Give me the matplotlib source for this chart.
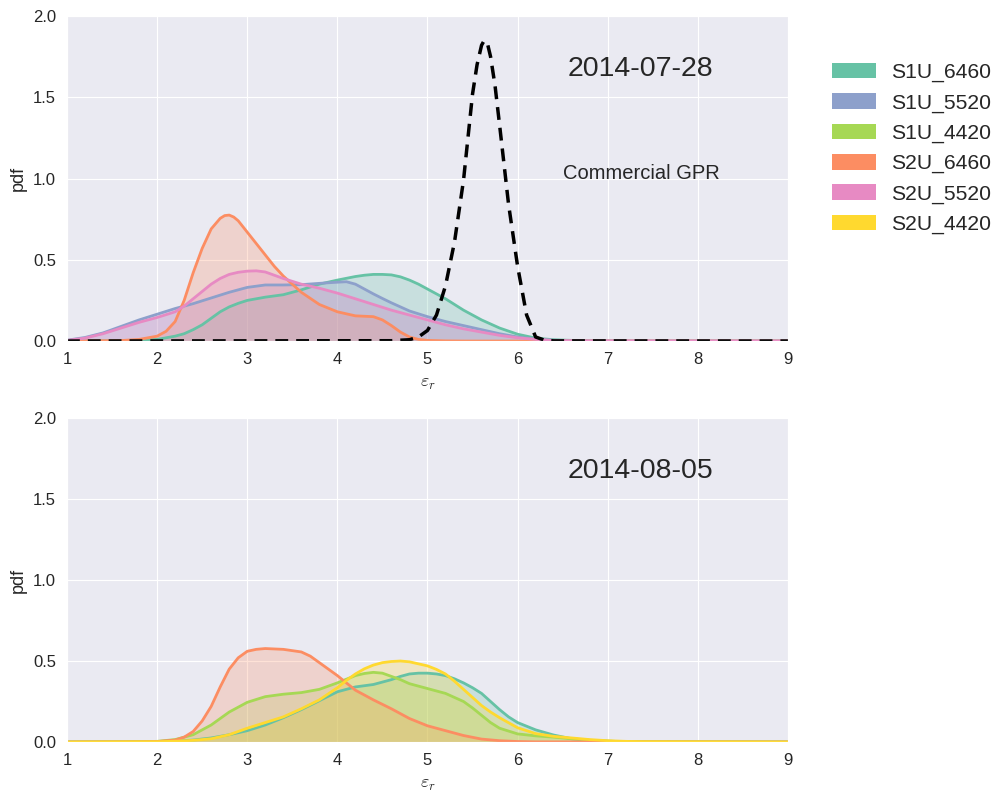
import matplotlib
matplotlib.use("Agg")
import matplotlib.pyplot as plt
from matplotlib.patches import Patch
import seaborn as sns

sns.set_style("darkgrid")
plt.rcParams["font.family"] = ["Liberation Sans", "DejaVu Sans"]
plt.rcParams["mathtext.fontset"] = "cm"

labels = ["S1U_6460", "S1U_5520", "S1U_4420", "S2U_6460", "S2U_5520", "S2U_4420"]
colors = ["#66c2a5", "#8da0cb", "#a6d854", "#fc8d62", "#e78ac3", "#ffd92f"]

# 2014-07-28 densities
jul_s1u_6460_x = [1.0, 1.6, 1.8, 2.0, 2.2, 2.3, 2.4, 2.5, 2.6, 2.7, 2.8, 2.9, 3.0, 3.2, 3.4, 3.6,
                  3.8, 4.0, 4.2, 4.3, 4.4, 4.5, 4.6, 4.7, 4.8, 4.9, 5.0, 5.1, 5.2, 5.3, 5.4, 5.5,
                  5.6, 5.7, 5.8, 6.0, 6.2, 6.4, 6.6, 6.8, 7.0, 7.2, 9.0]
jul_s1u_6460_y = [0, 0.002, 0.005, 0.01, 0.03, 0.045, 0.07, 0.1, 0.14, 0.18, 0.21, 0.232, 0.25,
                  0.27, 0.285, 0.315, 0.35, 0.375, 0.397, 0.405, 0.41, 0.41, 0.407, 0.395, 0.375,
                  0.35, 0.32, 0.29, 0.26, 0.225, 0.19, 0.16, 0.13, 0.105, 0.08, 0.042, 0.018,
                  0.008, 0.004, 0.002, 0.001, 0, 0]

jul_s1u_5520_x = [1.0, 1.2, 1.4, 1.6, 1.8, 2.0, 2.2, 2.4, 2.6, 2.8, 3.0, 3.2, 3.4, 3.6, 3.8, 4.0,
                  4.1, 4.2, 4.3, 4.4, 4.5, 4.6, 4.8, 5.0, 5.2, 5.4, 5.6, 5.8, 6.0, 6.2, 6.4, 6.6,
                  6.8, 9.0]
jul_s1u_5520_y = [0.005, 0.022, 0.05, 0.09, 0.13, 0.165, 0.2, 0.23, 0.265, 0.3, 0.33, 0.345, 0.345,
                  0.347, 0.355, 0.362, 0.365, 0.35, 0.32, 0.29, 0.262, 0.235, 0.185, 0.15, 0.12,
                  0.095, 0.07, 0.045, 0.025, 0.012, 0.005, 0.002, 0, 0]

jul_s2u_6460_x = [1.0, 1.6, 1.8, 2.0, 2.1, 2.2, 2.3, 2.4, 2.5, 2.6, 2.7, 2.75, 2.8, 2.85, 2.9,
                  3.0, 3.1, 3.2, 3.3, 3.4, 3.6, 3.8, 4.0, 4.2, 4.4, 4.5, 4.6, 4.7, 4.8, 4.9, 5.0,
                  5.2, 5.4, 9.0]
jul_s2u_6460_y = [0, 0.003, 0.01, 0.03, 0.06, 0.12, 0.25, 0.42, 0.57, 0.69, 0.755, 0.772, 0.775,
                  0.763, 0.74, 0.67, 0.6, 0.53, 0.46, 0.4, 0.3, 0.225, 0.18, 0.155, 0.15, 0.13,
                  0.095, 0.055, 0.025, 0.01, 0.004, 0.001, 0, 0]

jul_s2u_5520_x = [1.0, 1.2, 1.4, 1.6, 1.8, 2.0, 2.2, 2.3, 2.4, 2.5, 2.6, 2.7, 2.8, 2.9, 3.0, 3.1,
                  3.2, 3.3, 3.4, 3.6, 3.8, 4.0, 4.2, 4.4, 4.6, 4.8, 5.0, 5.2, 5.4, 5.6, 5.8, 6.0,
                  6.2, 6.4, 6.6, 9.0]
jul_s2u_5520_y = [0.004, 0.018, 0.045, 0.08, 0.115, 0.145, 0.18, 0.215, 0.26, 0.305, 0.35, 0.385,
                  0.41, 0.423, 0.43, 0.432, 0.425, 0.405, 0.385, 0.35, 0.325, 0.295, 0.26, 0.225,
                  0.19, 0.16, 0.13, 0.1, 0.075, 0.055, 0.035, 0.02, 0.01, 0.004, 0.001, 0]

# commercial GPR reference distribution
gpr_x = [1.0, 4.6, 4.8, 4.9, 5.0, 5.1, 5.2, 5.3, 5.4, 5.5, 5.55, 5.6, 5.63, 5.67, 5.7, 5.75,
         5.8, 5.9, 6.0, 6.1, 6.2, 6.3, 6.4, 9.0]
gpr_y = [0, 0.002, 0.008, 0.025, 0.065, 0.16, 0.34, 0.61, 0.99, 1.52, 1.7, 1.82, 1.85, 1.82,
         1.75, 1.57, 1.33, 0.84, 0.46, 0.16, 0.025, 0.005, 0.001, 0]

# 2014-08-05 densities
aug_s1u_6460_x = [1.0, 2.0, 2.2, 2.4, 2.6, 2.8, 3.0, 3.2, 3.4, 3.6, 3.8, 4.0, 4.2, 4.4, 4.6, 4.7,
                  4.8, 4.9, 5.0, 5.1, 5.2, 5.3, 5.4, 5.5, 5.6, 5.7, 5.8, 5.9, 6.0, 6.2, 6.4, 6.6,
                  6.8, 7.0, 7.2, 9.0]
aug_s1u_6460_y = [0, 0.002, 0.005, 0.012, 0.025, 0.045, 0.07, 0.105, 0.15, 0.2, 0.255, 0.31, 0.34,
                  0.355, 0.385, 0.405, 0.42, 0.425, 0.425, 0.42, 0.41, 0.39, 0.365, 0.335, 0.3,
                  0.25, 0.2, 0.155, 0.12, 0.075, 0.043, 0.02, 0.01, 0.005, 0.002, 0]

aug_s1u_4420_x = [1.0, 1.6, 2.0, 2.2, 2.4, 2.6, 2.8, 3.0, 3.2, 3.4, 3.6, 3.8, 4.0, 4.2, 4.3, 4.4,
                  4.5, 4.6, 4.7, 4.8, 5.0, 5.2, 5.4, 5.5, 5.6, 5.7, 5.8, 6.0, 6.2, 6.4, 6.6, 6.8,
                  7.0, 7.2, 9.0]
aug_s1u_4420_y = [0, 0.001, 0.004, 0.015, 0.045, 0.105, 0.185, 0.245, 0.28, 0.295, 0.305, 0.325,
                  0.365, 0.41, 0.423, 0.43, 0.425, 0.405, 0.385, 0.36, 0.33, 0.3, 0.25, 0.21,
                  0.165, 0.12, 0.085, 0.05, 0.038, 0.03, 0.02, 0.01, 0.005, 0.002, 0]

aug_s2u_6460_x = [1.0, 1.8, 2.0, 2.2, 2.3, 2.4, 2.5, 2.6, 2.7, 2.8, 2.9, 3.0, 3.1, 3.2, 3.4, 3.6,
                  3.7, 3.8, 3.9, 4.0, 4.2, 4.4, 4.6, 4.8, 5.0, 5.2, 5.4, 5.6, 5.8, 6.0, 6.2, 9.0]
aug_s2u_6460_y = [0, 0.001, 0.003, 0.012, 0.03, 0.065, 0.13, 0.22, 0.34, 0.45, 0.52, 0.56, 0.572,
                  0.577, 0.572, 0.556, 0.53, 0.49, 0.45, 0.41, 0.32, 0.26, 0.205, 0.145, 0.1,
                  0.07, 0.04, 0.018, 0.008, 0.003, 0.001, 0]

aug_s2u_4420_x = [1.0, 2.0, 2.2, 2.4, 2.6, 2.8, 3.0, 3.2, 3.4, 3.6, 3.8, 4.0, 4.1, 4.2, 4.3, 4.4,
                  4.5, 4.6, 4.7, 4.8, 5.0, 5.1, 5.2, 5.3, 5.4, 5.5, 5.6, 5.7, 5.8, 6.0, 6.2, 6.4,
                  6.6, 6.8, 7.0, 7.2, 7.4, 9.0]
aug_s2u_4420_y = [0, 0.002, 0.005, 0.01, 0.02, 0.045, 0.085, 0.12, 0.155, 0.205, 0.26, 0.335,
                  0.38, 0.42, 0.452, 0.475, 0.49, 0.497, 0.5, 0.495, 0.47, 0.448, 0.42, 0.375,
                  0.325, 0.275, 0.225, 0.185, 0.15, 0.088, 0.052, 0.035, 0.025, 0.015, 0.008,
                  0.004, 0.002, 0]

fig = plt.figure(figsize=(10.03, 7.97), dpi=100)
ax1 = fig.add_axes([0.0668, 0.5721, 0.7188, 0.4078])
ax2 = fig.add_axes([0.0668, 0.0690, 0.7188, 0.4065])


def density(ax, x, y, color):
    ax.fill_between(x, y, 0, color=color, alpha=0.25, lw=0)
    ax.plot(x, y, color=color, lw=2)


density(ax1, jul_s1u_6460_x, jul_s1u_6460_y, colors[0])
density(ax1, jul_s1u_5520_x, jul_s1u_5520_y, colors[1])
density(ax1, jul_s2u_6460_x, jul_s2u_6460_y, colors[3])
density(ax1, jul_s2u_5520_x, jul_s2u_5520_y, colors[4])
ax1.plot(gpr_x, gpr_y, "k--", lw=2.5, dashes=(3.7, 2.3))
ax1.text(6.5, 1.0, "Commercial GPR", fontsize=14.5, color=".15")
ax1.text(6.56, 1.63, "2014-07-28", fontsize=20.5, color=".15")

density(ax2, aug_s1u_6460_x, aug_s1u_6460_y, colors[0])
density(ax2, aug_s1u_4420_x, aug_s1u_4420_y, colors[2])
density(ax2, aug_s2u_6460_x, aug_s2u_6460_y, colors[3])
density(ax2, aug_s2u_4420_x, aug_s2u_4420_y, colors[5])
ax2.text(6.56, 1.63, "2014-08-05", fontsize=20.5, color=".15")

for ax in (ax1, ax2):
    ax.set_xlim(1, 9)
    ax.set_ylim(0, 2.0)
    ax.set_xticks(range(1, 10))
    ax.set_yticks([0, 0.5, 1.0, 1.5, 2.0])
    ax.tick_params(labelsize=12, pad=4.5, colors=".15")
    ax.set_xlabel(r"$\varepsilon_r$", fontsize=13, color=".15", labelpad=6)
    ax.set_ylabel("pdf", fontsize=13, color=".15")

handles = [Patch(facecolor=c, edgecolor="none") for c in colors]
fig.legend(handles, labels, loc="upper left", bbox_to_anchor=(0.8106, 0.945),
           frameon=False, fontsize=15.2, handlelength=2.08, handleheight=0.76,
           labelspacing=0.52, handletextpad=0.73)

fig.savefig("out.png", dpi=100)
